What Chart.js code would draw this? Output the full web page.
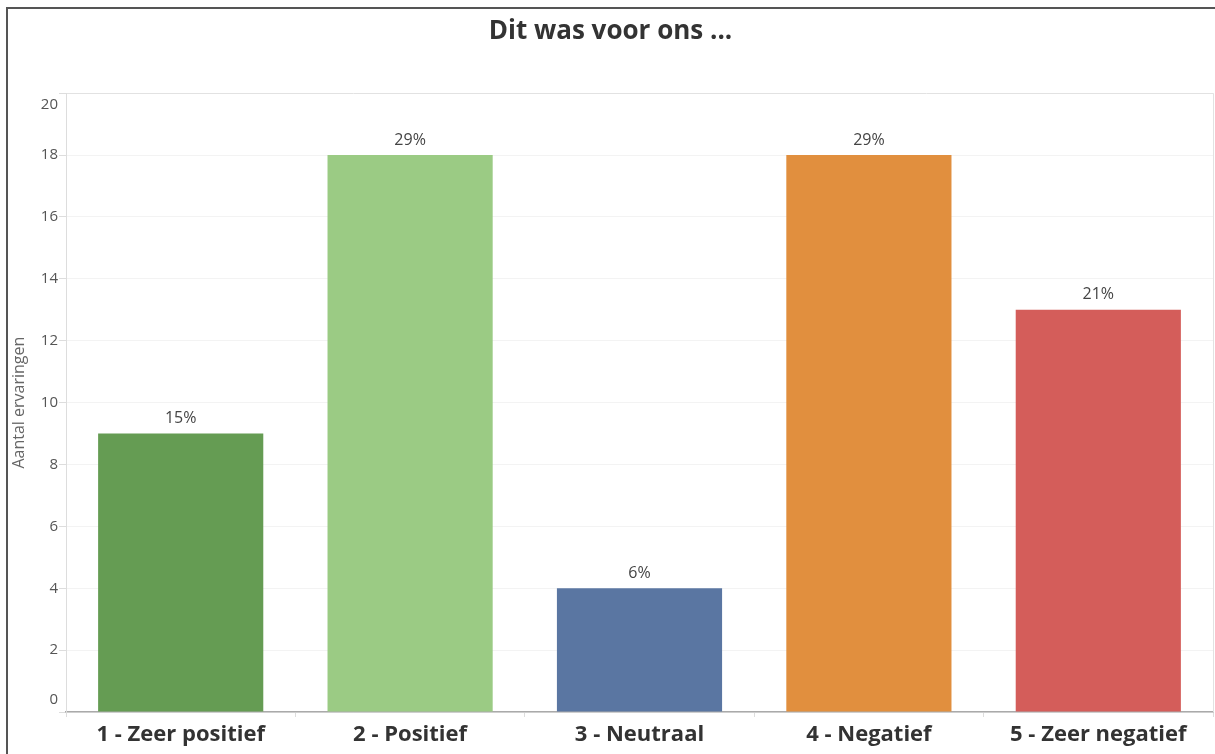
<!DOCTYPE html>
<html>
<head>
<meta charset="utf-8">
<script src="https://cdn.jsdelivr.net/npm/chart.js@4"></script>
<style>
  body { margin: 0; background: #fff; overflow: hidden; }
  #frame { position: absolute; left: 6px; top: 7px; width: 1300px; height: 900px;
    border-left: 2px solid #555; border-top: 2px solid #555; pointer-events: none; }
  #chart { position: absolute; left: 0; top: 0; }
</style>
</head>
<body>
<canvas id="chart" width="1215" height="754"></canvas>
<div id="frame"></div>
<script>
const categories = ["1 - Zeer positief", "2 - Positief", "3 - Neutraal", "4 - Negatief", "5 - Zeer negatief"];
const counts = [9, 18, 4, 18, 13];
const pctLabels = ["15%", "29%", "6%", "29%", "21%"];
const barColors = ["#659c53", "#9bcb84", "#5a76a2", "#e18f3e", "#d45d5a"];
const yTicks = [0, 2, 4, 6, 8, 10, 12, 14, 16, 18, 20];

const FONT = "'Open Sans', 'Noto Sans', sans-serif";

// percentages above the bars
const barLabels = {
  id: "barLabels",
  afterDatasetsDraw(chart) {
    const ctx = chart.ctx;
    const meta = chart.getDatasetMeta(0);
    ctx.save();
    ctx.font = "16px " + FONT;
    ctx.fillStyle = "#444";
    ctx.textAlign = "center";
    ctx.textBaseline = "middle";
    meta.data.forEach((bar, i) => {
      ctx.fillText(pctLabels[i], bar.x, bar.y - 15);
    });
    ctx.restore();
  },
};

// y tick labels, outer ones pulled inside the plot like the original
const yLabels = {
  id: "yLabels",
  afterDraw(chart) {
    const ctx = chart.ctx;
    const scale = chart.scales.y;
    ctx.save();
    ctx.font = "15px " + FONT;
    ctx.fillStyle = "#555";
    ctx.textAlign = "right";
    ctx.textBaseline = "middle";
    yTicks.forEach((v, i) => {
      let y = scale.getPixelForValue(v);
      if (i === 0) y -= 12;
      if (i === yTicks.length - 1) y += 12;
      ctx.fillText(String(v), 58, y);
    });
    // right edge of the plot
    const area = chart.chartArea;
    ctx.strokeStyle = "#e2e2e2";
    ctx.lineWidth = 1;
    ctx.beginPath();
    ctx.moveTo(area.right + 0.5, area.top);
    ctx.lineTo(area.right + 0.5, area.bottom);
    ctx.stroke();
    ctx.restore();
  },
};

new Chart(document.getElementById("chart"), {
  type: "bar",
  data: {
    labels: categories,
    datasets: [
      {
        data: counts,
        backgroundColor: barColors,
        borderWidth: 0,
        categoryPercentage: 1,
        barPercentage: 0.72,
      },
    ],
  },
  options: {
    responsive: false,
    animation: false,
    layout: { padding: { left: 8, right: 2, top: 0, bottom: 0 } },
    plugins: {
      legend: { display: false },
      tooltip: { enabled: false },
      title: {
        display: true,
        text: "Dit was voor ons ...",
        color: "#333",
        font: { family: FONT, size: 26, weight: "bold" },
        padding: { top: 16, bottom: 46 },
      },
    },
    scales: {
      x: {
        grid: {
          drawOnChartArea: false,
          tickLength: 5,
          tickColor: "#ddd",
        },
        border: { color: "#aaa", width: 1.5 },
        ticks: {
          color: "#333",
          font: { family: FONT, size: 22, weight: "bold" },
          padding: 5,
          maxRotation: 0,
        },
        afterFit(scale) { scale.height = 42; },
      },
      y: {
        min: 0,
        max: 20,
        afterBuildTicks(scale) { scale.ticks = yTicks.map((v) => ({ value: v })); },
        grid: {
          color: (c) => (c.tick && c.tick.value === 20 ? "#e2e2e2" : "#f3f3f3"),
          tickLength: 7,
          tickColor: "#ddd",
        },
        border: { color: "#ddd", width: 1 },
        ticks: { display: false },
        title: {
          display: true,
          text: "Aantal ervaringen",
          color: "#666",
          font: { family: FONT, size: 16 },
          padding: { top: 2, bottom: 0 },
        },
        afterFit(scale) { scale.width = 58; },
      },
    },
  },
  plugins: [barLabels, yLabels],
});
</script>
</body>
</html>
